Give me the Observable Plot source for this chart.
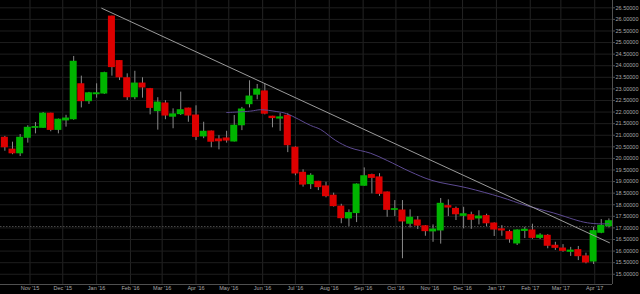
<!DOCTYPE html>
<html>
<head>
<meta charset="utf-8">
<script src="https://cdn.jsdelivr.net/npm/d3@7"></script>
<script src="https://cdn.jsdelivr.net/npm/@observablehq/plot@0.6"></script>
<style>
  html, body { margin: 0; padding: 0; background: #000; overflow: hidden; }
  #chart svg { display: block; }
</style>
</head>
<body>
<div id="chart"></div>
<script>
// Weekly candles, first week (Friday) and count
const firstWeek = "2015-10-09";

const opens = [20.89,20.38,20.22,20.89,21.32,21.32,21.93,21.23,21.64,21.69,
  23.20,22.47,22.77,22.80,26.12,24.20,23.46,22.64,23.23,22.99,
  22.04,22.37,21.80,21.91,22.15,21.85,20.95,21.16,20.82,20.86,
  20.73,21.43,22.34,22.75,22.89,21.80,21.72,21.84,20.46,19.38,
  18.89,18.99,18.79,18.39,17.92,17.41,17.64,18.82,19.28,19.18,
  18.53,17.78,17.75,17.18,17.32,17.07,16.85,16.89,17.94,17.82,
  17.52,17.55,17.41,17.51,17.19,16.94,16.82,16.33,16.87,16.89,
  16.57,16.66,16.23,16.11,15.97,16.04,15.77,15.55,16.79,17.07];

const highs = [20.95,20.70,21.03,21.41,21.55,21.98,21.95,21.70,21.86,24.40,
  23.55,22.85,23.22,23.72,26.14,24.22,23.65,23.76,23.48,23.02,
  22.62,22.49,22.14,22.86,22.17,22.27,21.56,21.18,20.98,21.17,
  21.85,22.20,23.35,23.19,23.22,21.82,21.94,21.93,20.50,19.51,
  19.34,19.01,18.97,18.50,18.02,17.78,18.90,19.59,19.32,19.34,
  18.55,18.18,18.18,17.78,17.49,17.10,17.13,18.27,18.21,17.90,
  17.89,17.68,17.74,17.59,17.22,17.10,16.90,16.92,17.03,17.16,
  16.75,16.71,16.38,16.28,16.16,16.20,15.91,17.03,17.36,17.39];

const lows = [20.31,20.16,20.08,20.66,21.06,21.30,21.15,21.06,21.35,21.65,
  22.18,22.33,22.60,22.76,23.55,23.36,22.50,22.53,22.60,21.88,
  21.22,21.67,21.28,21.85,21.56,20.77,20.85,20.46,20.37,20.66,
  20.71,21.20,22.18,22.53,21.88,21.32,21.17,20.25,19.25,18.76,
  18.66,18.61,18.30,17.90,17.18,17.06,17.23,18.80,18.47,18.36,
  17.46,17.49,15.67,17.00,16.93,16.64,16.38,16.30,17.49,17.32,
  16.96,16.94,17.13,17.06,16.63,16.64,16.34,16.24,16.54,16.51,
  16.50,16.10,16.03,15.95,15.77,15.59,15.45,15.42,16.75,17.00];

const closes = [20.48,20.22,20.89,21.32,21.35,21.93,21.23,21.67,21.72,24.17,
  22.47,22.81,22.81,23.68,23.94,23.50,22.64,23.23,23.06,22.18,
  22.41,21.85,21.90,22.08,21.85,20.93,21.15,20.72,20.74,20.77,
  21.41,22.11,22.67,22.97,21.93,21.74,21.77,20.57,19.35,18.87,
  19.25,18.76,18.37,17.94,17.42,17.64,18.87,19.23,19.16,18.47,
  17.78,17.81,17.28,17.44,17.10,16.86,16.93,18.04,17.88,17.59,
  17.59,17.35,17.49,17.20,16.93,16.89,16.51,16.89,16.92,16.57,
  16.67,16.23,16.14,16.01,16.02,15.78,15.51,16.86,17.09,17.29];

// Moving average (purple)
const maDates = ["2016-04-29","2016-05-21","2016-05-30","2016-06-14","2016-06-23",
  "2016-07-15","2016-07-24","2016-08-07","2016-08-20","2016-09-08","2016-09-23",
  "2016-10-14","2016-11-03","2016-12-05","2017-01-05","2017-01-28","2017-02-22",
  "2017-03-22","2017-04-03","2017-04-14"];
const maValues = [21.98,22.04,22.10,22.02,21.93,21.42,21.25,20.77,20.46,20.22,19.91,
  19.43,19.05,18.73,18.33,17.97,17.65,17.25,17.18,17.18];

// Trend line (gray)
const trendDates = ["2016-01-05T16:00","2017-04-14T12:00"];
const trendValues = [26.48, 16.36];

// Current price dashed line
const currentLevel = 17.06;

// Axis ticks
const monthTicks = ["2015-11-01","2015-12-01","2016-01-01","2016-02-01","2016-03-01",
  "2016-04-01","2016-05-01","2016-06-01","2016-07-01","2016-08-01","2016-09-01",
  "2016-10-01","2016-11-01","2016-12-01","2017-01-01","2017-02-01","2017-03-01","2017-04-01"];
const yTicks = [15,15.5,16,16.5,17,17.5,18,18.5,19,19.5,20,20.5,21,21.5,22,22.5,23,23.5,24,24.5,25,25.5,26,26.5];

// Build tables
const start = new Date(firstWeek);
const candles = opens.map((o, i) => ({
  date: d3.utcDay.offset(start, 7 * i),
  open: o, high: highs[i], low: lows[i], close: closes[i]
}));
const ma = maDates.map((d, i) => ({date: new Date(d), value: maValues[i]}));
const trend = trendDates.map((d, i) => ({date: new Date(d + "Z"), value: trendValues[i]}));
const months = monthTicks.map(d => new Date(d));

const xDomain = [new Date("2015-10-05T00:00Z"), new Date("2017-04-17T07:00Z")];
const yDomain = [14.558, 26.815];

const green = "#00b400";
const red = "#dd0000";
const fmtMonth = d3.utcFormat("%b '%y");

const chart = Plot.plot({
  width: 640,
  height: 294,
  marginTop: 0,
  marginBottom: 10,
  marginLeft: 0,
  marginRight: 28,
  style: {
    background: "#000",
    color: "#a8a8a8",
    fontFamily: "'Liberation Sans', Arial, sans-serif",
    fontSize: "5.5px"
  },
  x: {type: "utc", domain: xDomain},
  y: {domain: yDomain},
  color: {type: "identity"},
  marks: [
    Plot.gridX(months, {stroke: "#232323", strokeOpacity: 1}),
    Plot.gridY(yTicks, {stroke: "#1e1e1e", strokeOpacity: 1}),
    Plot.ruleY([currentLevel], {stroke: "#4a4a4a", strokeDasharray: "1.5,1.5"}),
    Plot.ruleX(candles, {x: "date", y1: "low", y2: "high", stroke: "#8a8a8a", strokeWidth: 1}),
    Plot.rect(candles, {
      x1: d => d3.utcHour.offset(d.date, -77),
      x2: d => d3.utcHour.offset(d.date, 77),
      y1: "open",
      y2: "close",
      insetTop: -0.5,
      insetBottom: -0.5,
      fill: d => d.close >= d.open ? green : red
    }),
    Plot.line(ma, {x: "date", y: "value", stroke: "#5d4a92", strokeWidth: 1, curve: "catmull-rom"}),
    Plot.line(trend, {x: "date", y: "value", stroke: "#9a9a9a", strokeWidth: 1}),
    Plot.ruleX([xDomain[1]], {stroke: "#505050"}),
    Plot.ruleY([yDomain[0]], {stroke: "#505050"}),
    Plot.axisY(yTicks, {
      anchor: "right",
      tickSize: 2,
      tickPadding: 1,
      stroke: "#505050",
      fill: "#a8a8a8",
      tickFormat: d3.format(".5f")
    }),
    Plot.axisX(months, {
      anchor: "bottom",
      tickSize: 0,
      tickPadding: 2,
      fill: "#a8a8a8",
      tickFormat: d => fmtMonth(d)
    })
  ]
});

document.getElementById("chart").appendChild(chart);
</script>
</body>
</html>
